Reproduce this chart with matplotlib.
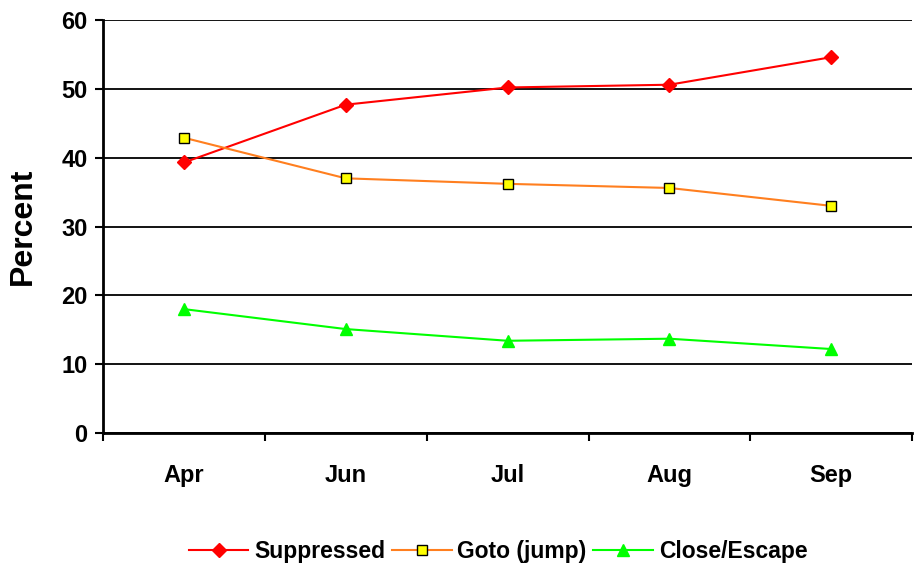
import matplotlib.pyplot as plt
import numpy as np

plt.rcParams["font.family"] = ["Liberation Sans", "DejaVu Sans"]
plt.rcParams["font.weight"] = "bold"

months = ["Apr", "Jun", "Jul", "Aug", "Sep"]
suppressed = [39.3, 47.7, 50.2, 50.6, 54.6]
goto_jump = [42.9, 37.0, 36.2, 35.6, 33.0]
close_escape = [18.0, 15.1, 13.4, 13.7, 12.2]

fig = plt.figure(figsize=(9.14, 5.72), dpi=100)
ax = fig.add_axes([0.1127, 0.243, 0.8853, 0.722])

x = np.arange(len(months))
ax.plot(x, suppressed, color="#ff0000", lw=1.5, marker="D", ms=7,
        mfc="#ff0000", mec="#ff0000", label="Suppressed")
ax.plot(x, goto_jump, color="#ff7f1f", lw=1.5, marker="s", ms=7,
        mfc="#ffff00", mec="black", mew=1, label="Goto (jump)")
ax.plot(x, close_escape, color="#00ff00", lw=1.5, marker="^", ms=9,
        mfc="#00ff00", mec="#00ff00", label="Close/Escape")

ax.set_xlim(-0.5, len(months) - 0.5)
ax.set_ylim(0, 60)
ax.set_yticks(range(0, 61, 10))
ax.grid(axis="y", color="black", lw=1.3)
ax.set_axisbelow(True)

ax.set_xticks(x)
ax.set_xticklabels(months, fontsize=17, fontweight="bold")
ax.tick_params(axis="x", which="major", length=0, pad=22)
ax.set_xticks(np.arange(-0.5, len(months), 1.0), minor=True)
ax.tick_params(axis="x", which="minor", length=6, width=1.5, direction="out")
ax.tick_params(axis="y", length=6, width=1.5, labelsize=17, pad=5)
for lab in ax.get_yticklabels():
    lab.set_fontweight("bold")

for s in ["top", "right"]:
    ax.spines[s].set_visible(False)
for s in ["left", "bottom"]:
    ax.spines[s].set_linewidth(2)

ax.set_ylabel("Percent", fontsize=23, fontweight="bold")
ax.yaxis.set_label_coords(-0.08, 0.5)

fig.legend(loc="center", bbox_to_anchor=(0.545, 0.035), ncol=3, frameon=False,
           prop={"size": 16.5, "weight": "bold"}, handlelength=2.6,
           columnspacing=0.3, handletextpad=0.25)

fig.savefig("out.png", dpi=100)
